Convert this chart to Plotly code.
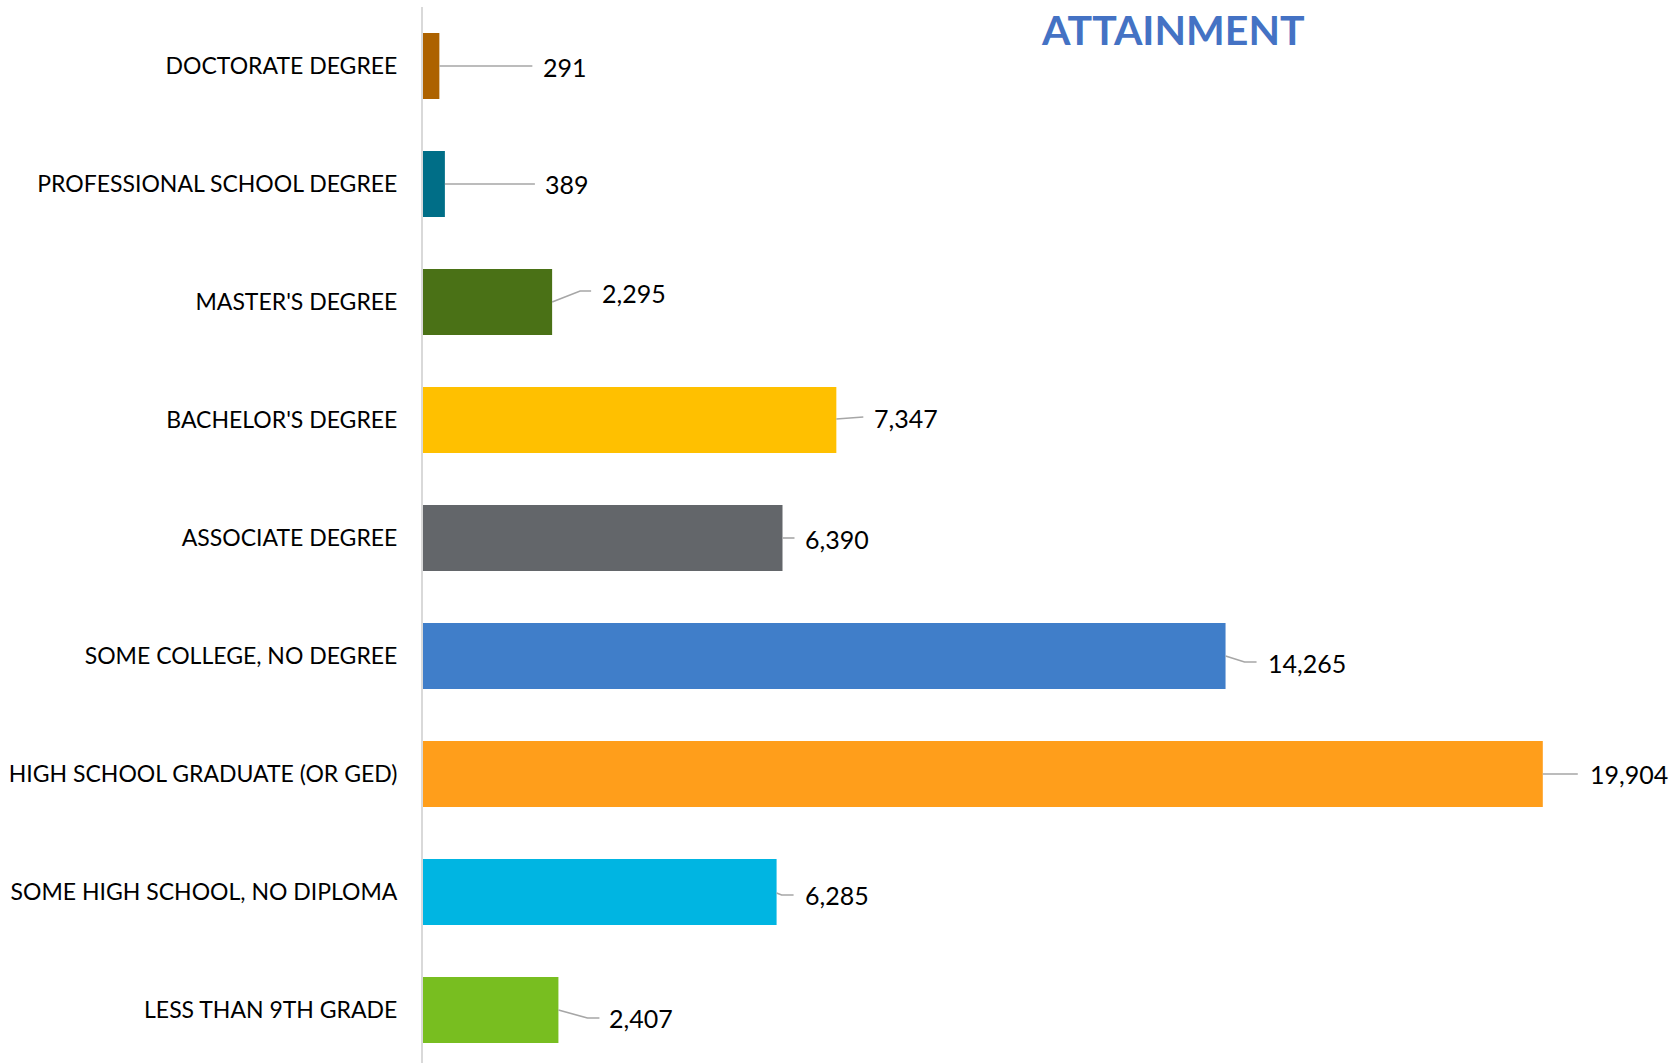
import plotly.graph_objects as go

# Educational attainment counts, listed bottom-to-top
categories = [
    "LESS THAN 9TH GRADE",
    "SOME HIGH SCHOOL, NO DIPLOMA",
    "HIGH SCHOOL GRADUATE (OR GED)",
    "SOME COLLEGE, NO DEGREE",
    "ASSOCIATE DEGREE",
    "BACHELOR'S DEGREE",
    "MASTER'S DEGREE",
    "PROFESSIONAL SCHOOL DEGREE",
    "DOCTORATE DEGREE",
]
values = [2407, 6285, 19904, 14265, 6390, 7347, 2295, 389, 291]
colors = [
    "#78BE20", "#00B5E2", "#FF9E1B", "#407EC9", "#63666A",
    "#FFC000", "#4A7116", "#006E87", "#AD6200",
]

# Page geometry
W, H = 1674, 1063
ML, MT, MR, MB = 423, 7, 0, 0
plot_w = W - ML - MR
plot_h = H - MT - MB
px_per_unit = 0.05626          # horizontal pixels per person
cat_px = 118.0                  # vertical pixels per category slot
x_max = plot_w / px_per_unit
y_top = len(categories) - 0.5
y_bottom = y_top - plot_h / cat_px
positions = list(range(len(categories)))

# Leader-line polylines (pixel offsets from the bar end, y down) and label offsets
leader_paths = [
    [(0, 0), (29, 8), (41, 8)],
    [(0, 1), (5, 3), (17, 3)],
    [(0, 0), (35, 0)],
    [(0, 0), (19, 6), (31, 6)],
    [(0, 0), (12, 0)],
    [(0, -1), (27, -3)],
    [(0, 0), (28, -11), (39, -11)],
    [(0, 0), (90, 0)],
    [(0, 0), (93, 0)],
]
label_offsets = [(49, 8), (26, 3), (45, 0), (40, 7), (20, 1), (36, -2), (48, -9), (98, 0), (102, 1)]

fig = go.Figure()
fig.add_trace(go.Bar(
    y=positions,
    x=values,
    orientation="h",
    marker=dict(color=colors, line=dict(width=0)),
    hoverinfo="skip",
))

for i, (val, path) in enumerate(zip(values, leader_paths)):
    xs = [val + dx / px_per_unit for dx, dy in path]
    ys = [i - dy / cat_px for dx, dy in path]
    fig.add_trace(go.Scatter(
        x=xs, y=ys, mode="lines",
        line=dict(color="#A6A6A6", width=1.6),
        hoverinfo="skip", cliponaxis=False,
    ))

annotations = []
for i, (val, (ox, oy)) in enumerate(zip(values, label_offsets)):
    annotations.append(dict(
        x=val + ox / px_per_unit, y=i - oy / cat_px,
        xref="x", yref="y", xanchor="left", yanchor="middle",
        text=f"{val:,}", showarrow=False,
        font=dict(family="Lato", size=25, color="#000000"),
    ))

annotations.append(dict(
    x=(1173 - ML) / plot_w, y=(H - 29 - MB) / plot_h,
    xref="paper", yref="paper", xanchor="center", yanchor="middle",
    text="<b>ATTAINMENT</b>", showarrow=False,
    font=dict(family="Lato", size=41, color="#4472C4"),
))

fig.update_layout(
    width=W, height=H,
    margin=dict(l=ML, r=MR, t=MT, b=MB, pad=0),
    paper_bgcolor="white", plot_bgcolor="white",
    showlegend=False,
    bargap=0.44,
    annotations=annotations,
    xaxis=dict(range=[0, x_max], visible=False, showgrid=False, zeroline=False),
    yaxis=dict(
        range=[y_bottom, y_top],
        tickmode="array", tickvals=positions, ticktext=categories,
        showgrid=False, zeroline=False,
        showline=True, linecolor="#D9D9D9", linewidth=2,
        ticks="", ticklabelstandoff=19,
        tickfont=dict(family="Lato", size=23, color="#000000"),
    ),
)

fig.write_html("out.html")
